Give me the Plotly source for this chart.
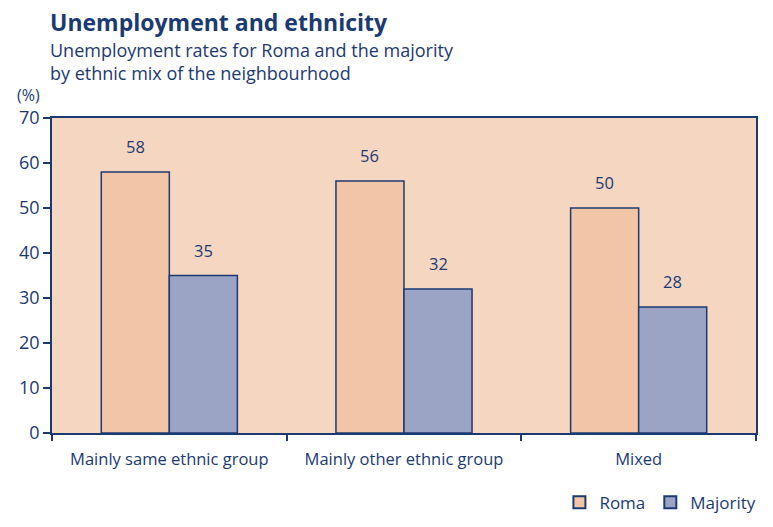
import plotly.graph_objects as go

# Unemployment rates (%) by ethnic mix of the neighbourhood
categories = ["Mainly same ethnic group", "Mainly other ethnic group", "Mixed"]
roma = [58, 56, 50]
majority = [35, 32, 28]
y_ticks = [0, 10, 20, 30, 40, 50, 60, 70]

NAVY = "#1c3a72"
FONT = "Open Sans, Noto Sans, sans-serif"
BAR_GAP = 0.42

fig = go.Figure()
fig.add_trace(go.Bar(
    name="Roma", x=categories, y=roma,
    marker=dict(color="#f3c5a7", line=dict(color=NAVY, width=1.5)),
))
fig.add_trace(go.Bar(
    name="Majority", x=categories, y=majority,
    marker=dict(color="#9ba4c4", line=dict(color=NAVY, width=1.5)),
))

# value labels above each bar
half = (1 - BAR_GAP) / 4
for i in range(len(categories)):
    for val, dx in ((roma[i], -half), (majority[i], half)):
        fig.add_annotation(
            x=i + dx, y=val, text=str(val), showarrow=False,
            yanchor="bottom", yshift=12,
            font=dict(family=FONT, size=16.5, color=NAVY),
        )

# heading block above the plot area
fig.add_annotation(
    xref="paper", yref="paper", x=-0.006, y=1.305, xanchor="left", yanchor="middle",
    text="<b>Unemployment and ethnicity</b>", showarrow=False,
    font=dict(family=FONT, size=23, color=NAVY),
)
fig.add_annotation(
    xref="paper", yref="paper", x=-0.006, y=1.179, xanchor="left", yanchor="middle",
    align="left", showarrow=False,
    text="Unemployment rates for Roma and the majority<br>by ethnic mix of the neighbourhood",
    font=dict(family=FONT, size=18, color=NAVY),
)

fig.add_annotation(
    xref="paper", yref="paper", x=-0.052, y=1.072, xanchor="left", yanchor="middle",
    text="(%)", showarrow=False, font=dict(family=FONT, size=16, color=NAVY),
)

fig.update_layout(
    width=773, height=527,
    margin=dict(l=52, r=17, t=118, b=94),
    paper_bgcolor="white",
    plot_bgcolor="#f5d6c1",
    barmode="group", bargap=BAR_GAP, bargroupgap=0,
    font=dict(family=FONT, color=NAVY),
    legend=dict(
        orientation="h", xref="container", yref="container",
        x=0.985, xanchor="right", y=0.046, yanchor="middle",
        font=dict(family=FONT, size=17, color=NAVY),
        itemsizing="constant",
    ),
    xaxis=dict(
        showline=True, linecolor=NAVY, linewidth=1.5, mirror=True,
        ticks="outside", tickson="boundaries", ticklen=6, tickcolor=NAVY, tickwidth=1.5,
        tickfont=dict(family=FONT, size=16.5, color=NAVY),
        ticklabelstandoff=10,
        showgrid=False,
    ),
    yaxis=dict(
        range=[0, 70], tickvals=y_ticks,
        showline=True, linecolor=NAVY, linewidth=1.5, mirror=True,
        ticks="outside", ticklen=7, tickcolor=NAVY, tickwidth=1.5,
        tickfont=dict(family=FONT, size=18, color=NAVY),
        showgrid=False, zeroline=False,
    ),
)

fig.write_html("out.html")
